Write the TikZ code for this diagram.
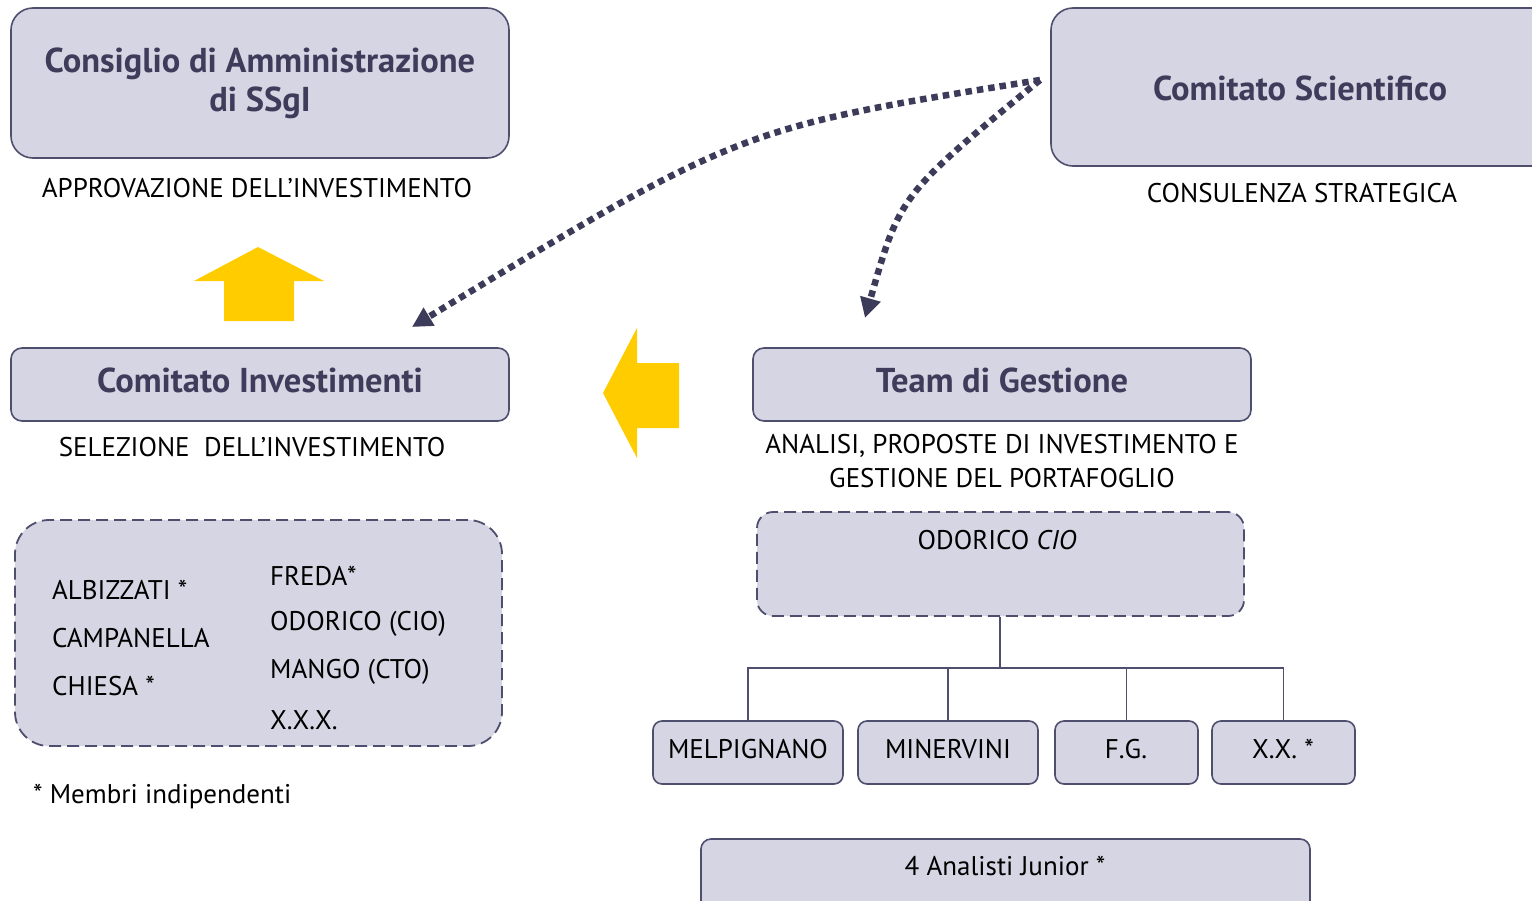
\documentclass[tikz,border=0pt]{standalone}
\usepackage{fontspec}
\setmainfont{PT Sans}
\usetikzlibrary{arrows.meta}
\definecolor{boxfill}{HTML}{D5D5E3}
\definecolor{boxline}{HTML}{4E4E6E}
\definecolor{titlecol}{HTML}{3D3D5B}
\definecolor{dotcol}{HTML}{3C3C5A}
\definecolor{yel}{HTML}{FFCC00}
\tikzset{
  titletxt/.style={font=\fontsize{34.5}{42}\selectfont\bfseries, text=titlecol, inner sep=0pt, align=center},
  bigbox/.style={draw=boxline, fill=boxfill, line width=1.6pt, rounded corners=22pt, inner sep=0pt},
  midbox/.style={draw=boxline, fill=boxfill, line width=1.6pt, rounded corners=11pt, inner sep=0pt},
  dbox/.style={draw=boxline, fill=boxfill, line width=1.8pt, dash pattern=on 12pt off 6pt, inner sep=0pt},
  smallbox/.style={draw=boxline, fill=boxfill, line width=1.6pt, rounded corners=9pt, inner sep=0pt},
  lbl/.style={font=\fontsize{27}{32}\selectfont, text=black, inner sep=0pt, align=center},
  lstxt/.style={font=\fontsize{27}{32}\selectfont, text=black, inner sep=0pt, anchor=west},
  dotarrow/.style={draw=dotcol, line width=6.5pt, dash pattern=on 6.5pt off 5pt, -{Triangle[length=20pt,width=20pt]}},
  tree/.style={draw=boxline, line width=1.8pt},
  yarrow/.style={fill=yel, draw=none}
}
\begin{document}
\begin{tikzpicture}[x=1pt,y=-1pt]
\useasboundingbox (0,0) rectangle (1532,900);
\clip (0,0) rectangle (1532,900);

% top boxes
\node[bigbox, minimum width=498pt, minimum height=150pt] (cda) at (260,83) {};
\node[titletxt] (cdatxt) at (260,83) {Consiglio di Amministrazione\\[-3pt]di SSgI};
\node[lbl] (cdalbl) at (257,188) {APPROVAZIONE DELL’INVESTIMENTO};

\node[bigbox, minimum width=510pt, minimum height=158pt] (cs) at (1306,87) {};
\node[titletxt] (cstxt) at (1300,88) {Comitato Scientifico};
\node[lbl] (cslbl) at (1302,193) {CONSULENZA STRATEGICA};

% middle boxes
\node[midbox, minimum width=498pt, minimum height=73pt] (ci) at (260,384.5) {};
\node[titletxt] (citxt) at (260,380) {Comitato Investimenti};
\node[lbl] (cilbl) at (252,447) {SELEZIONE\ \ DELL’INVESTIMENTO};

\node[midbox, minimum width=498pt, minimum height=73pt] (tg) at (1002,384.5) {};
\node[titletxt] (tgtxt) at (1002,380) {Team di Gestione};
\node[lbl] (tglbl1) at (1002,446) {ANALISI, PROPOSTE DI INVESTIMENTO E};
\node[lbl] (tglbl2) at (1002,478) {GESTIONE DEL PORTAFOGLIO};

% yellow arrows
\fill[yarrow] (258,247) -- (324,281) -- (294,281) -- (294,321) -- (224,321) -- (224,281) -- (194,281) -- cycle;
\fill[yarrow] (603,393) -- (637,328) -- (637,363) -- (679,363) -- (679,428) -- (637,428) -- (637,458) -- cycle;

% dotted arrows
\coordinate (src) at (1040,80);
\coordinate (ciend) at (412,327);
\coordinate (tgend) at (865,318);
\draw[dotarrow] (src) .. controls (740,128) .. (ciend);
\draw[dotarrow] (src) .. controls (900,195) .. (tgend);

% left dashed box
\node[dbox, rounded corners=34pt, minimum width=487pt, minimum height=226pt] (cibox) at (258.5,633) {};
\node[lstxt] (m1) at (52,590) {ALBIZZATI *};
\node[lstxt] (m2) at (52,638) {CAMPANELLA};
\node[lstxt] (m3) at (52,686) {CHIESA *};
\node[lstxt] (m4) at (270,576) {FREDA*};
\node[lstxt] (m5) at (270,624) {ODORICO (CIO)};
\node[lstxt] (m6) at (270,672) {MANGO (CTO)};
\node[lstxt] (m7) at (270,720) {X.X.X.};
\node[lstxt] (note) at (33,797) {* Membri indipendenti};

% ODORICO box and tree
\node[dbox, rounded corners=16pt, minimum width=487pt, minimum height=104pt] (cio) at (1000.5,564) {};
\node[lbl] (ciotxt) at (997,540) {ODORICO \textit{CIO}};

\node[smallbox, minimum width=190pt, minimum height=63pt] (b1) at (748,752.5) {};
\node[smallbox, minimum width=180pt, minimum height=63pt] (b2) at (948,752.5) {};
\node[smallbox, minimum width=143pt, minimum height=63pt] (b3) at (1126.5,752.5) {};
\node[smallbox, minimum width=143pt, minimum height=63pt] (b4) at (1283.5,752.5) {};
\node[lbl] (t1) at (748,749) {MELPIGNANO};
\node[lbl] (t2) at (948,749) {MINERVINI};
\node[lbl] (t3) at (1126,749) {F.G.};
\node[lbl] (t4) at (1283,749) {X.X. *};

\coordinate (junc) at (1000,668);
\draw[tree] (cio.south -| junc) -- (junc);
\draw[tree] (b1.north) |- (junc) -| (b4.north);
\draw[tree] (b2.north) -- (b2.north |- junc);
\draw[tree] (b3.north) -- (b3.north |- junc);

% bottom box
\node[smallbox, rounded corners=10pt, minimum width=609pt, minimum height=80pt] (jr) at (1005.5,879) {};
\node[lbl] (jrtxt) at (1005,866) {4 Analisti Junior *};
\end{tikzpicture}
\end{document}
